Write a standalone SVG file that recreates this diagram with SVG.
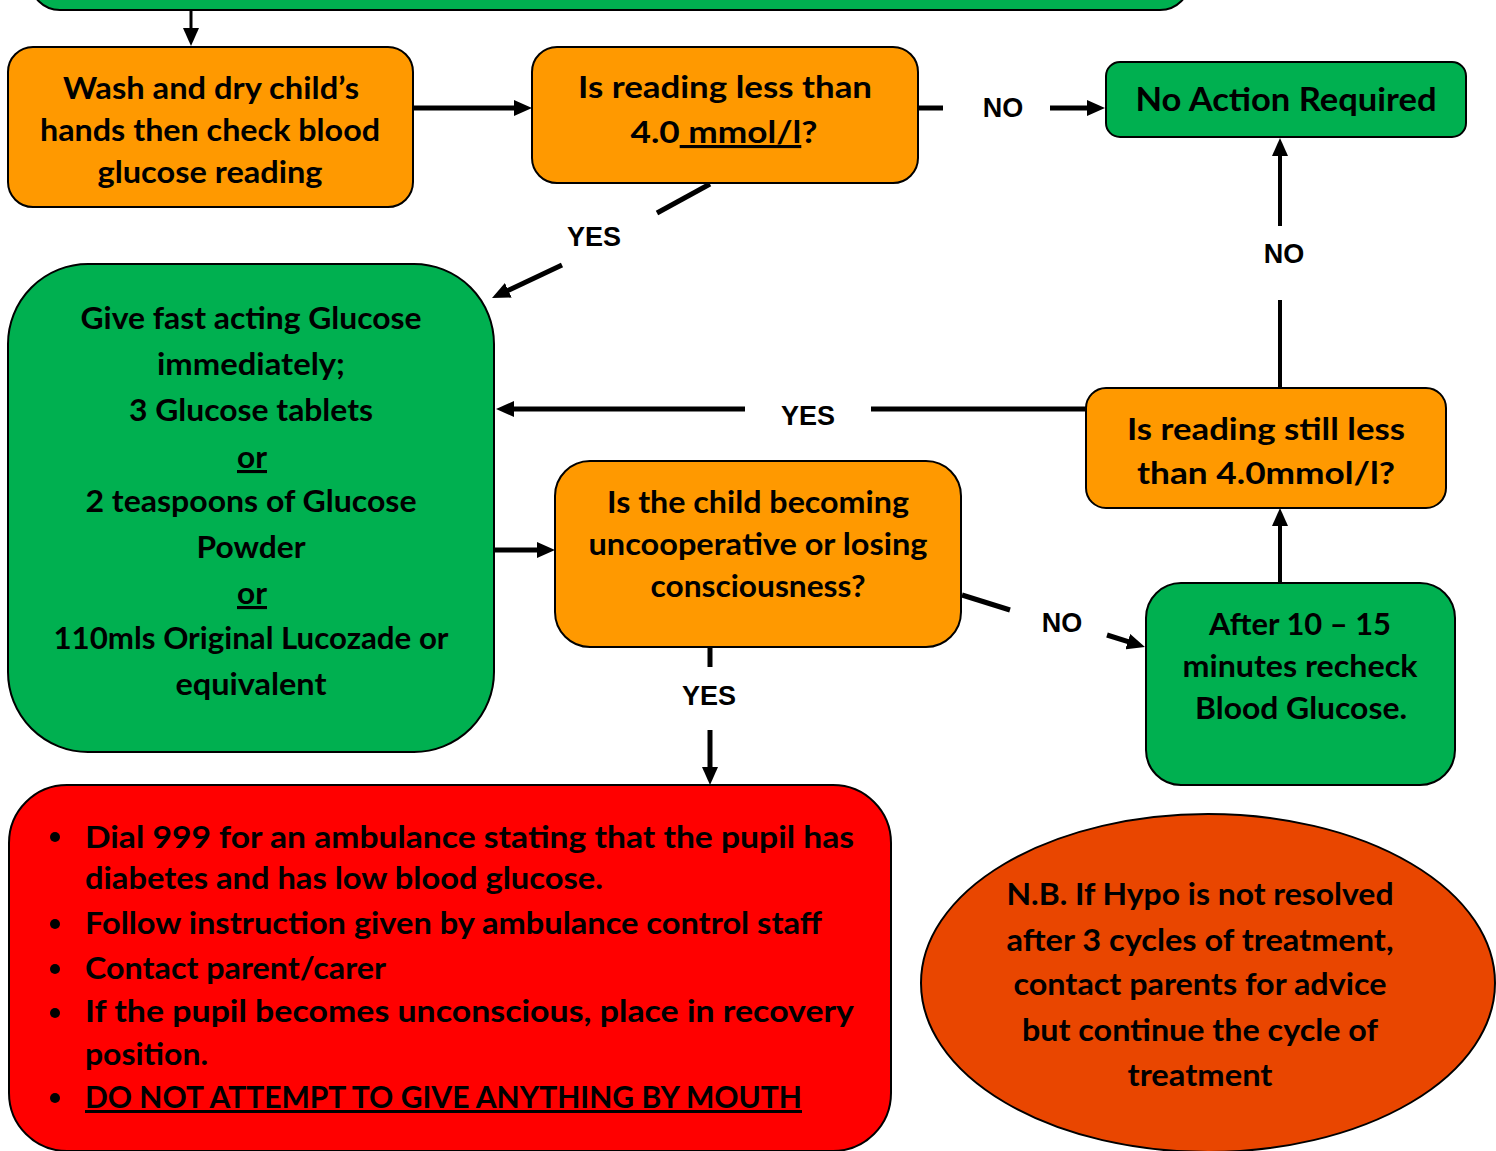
<svg xmlns="http://www.w3.org/2000/svg" width="1496" height="1151" viewBox="0 0 1496 1151">
<defs>
<style>
.box{stroke:#000;stroke-width:2}
.green{fill:#00B050}
.orange{fill:#FF9900}
.red{fill:#FF0000}
.oval{fill:#E94600}
.t{font-family:Lato,"Open Sans","Liberation Sans",sans-serif;font-weight:bold;font-size:31px;fill:#000;text-anchor:middle}
.tl{font-family:Lato,"Open Sans","Liberation Sans",sans-serif;font-weight:bold;font-size:30px;fill:#000}
.lbl{font-family:"Liberation Sans",Arial,sans-serif;font-weight:bold;font-size:27px;fill:#000;text-anchor:middle}
.c{stroke:#000;stroke-width:5;fill:none}
.u{text-decoration:underline}
</style>
<marker id="ah" markerUnits="userSpaceOnUse" markerWidth="18" markerHeight="16" refX="2" refY="8" orient="auto">
<path d="M0,0 L18,8 L0,16 z" fill="#000"/>
</marker>
</defs>
<rect width="1496" height="1151" fill="#fff"/>

<g id="top-node">
<rect class="box green" x="30" y="-70" width="1160" height="80" rx="30"/>
</g>

<g id="connectors">
<line class="c" style="stroke-width:3" x1="191" y1="10" x2="191" y2="30" marker-end="url(#ah)"/>
<line class="c" x1="413" y1="108" x2="516" y2="108" marker-end="url(#ah)"/>
<line class="c" x1="918" y1="108" x2="943" y2="108"/>
<line class="c" x1="1050" y1="108" x2="1089" y2="108" marker-end="url(#ah)"/>
<line class="c" style="stroke-width:4" x1="1280" y1="226" x2="1280" y2="154" marker-end="url(#ah)"/>
<line class="c" style="stroke-width:4" x1="1280" y1="300" x2="1280" y2="388"/>
<line class="c" x1="1086" y1="409" x2="871" y2="409"/>
<line class="c" x1="745" y1="409" x2="512" y2="409" marker-end="url(#ah)"/>
<line class="c" x1="710" y1="184" x2="657" y2="213"/>
<line class="c" x1="562" y1="265" x2="506.5" y2="291.2" marker-end="url(#ah)"/>
<line class="c" x1="492" y1="550" x2="539" y2="550" marker-end="url(#ah)"/>
<line class="c" x1="962" y1="595" x2="1010" y2="610"/>
<line class="c" x1="1107" y1="635" x2="1129.7" y2="642.2" marker-end="url(#ah)"/>
<line class="c" style="stroke-width:4" x1="1280" y1="582" x2="1280" y2="524" marker-end="url(#ah)"/>
<line class="c" x1="710" y1="647" x2="710" y2="667"/>
<line class="c" x1="710" y1="730" x2="710" y2="769" marker-end="url(#ah)"/>
<text class="lbl" x="1003" y="117">NO</text>
<text class="lbl" x="1284" y="263">NO</text>
<text class="lbl" x="594" y="246">YES</text>
<text class="lbl" x="808" y="425">YES</text>
<text class="lbl" x="709" y="705">YES</text>
<text class="lbl" x="1062" y="632">NO</text>
</g>

<g id="wash">
<rect class="box orange" x="8" y="47" width="405" height="160" rx="25"/>
<text class="t" x="211" y="99" textLength="296" lengthAdjust="spacingAndGlyphs">Wash and dry child’s</text>
<text class="t" x="210" y="141" textLength="340" lengthAdjust="spacingAndGlyphs">hands then check blood</text>
<text class="t" x="210" y="183" textLength="225" lengthAdjust="spacingAndGlyphs">glucose reading</text>
</g>

<g id="check1">
<rect class="box orange" x="532" y="47" width="386" height="136" rx="25"/>
<text class="t" x="725" y="98" textLength="294" lengthAdjust="spacingAndGlyphs">Is reading less than</text>
<text class="t" x="724" y="143" textLength="187" lengthAdjust="spacingAndGlyphs">4.0<tspan class="u"> mmol/l</tspan>?</text>
</g>

<g id="no-action">
<rect class="box green" x="1106" y="62" width="360" height="75" rx="14"/>
<text class="t" style="font-size:33px" x="1286" y="111" textLength="301" lengthAdjust="spacingAndGlyphs">No Action Required</text>
</g>

<g id="check2">
<rect class="box orange" x="1086" y="388" width="360" height="120" rx="20"/>
<text class="t" x="1266" y="440" textLength="278" lengthAdjust="spacingAndGlyphs">Is reading still less</text>
<text class="t" x="1266" y="484" textLength="258" lengthAdjust="spacingAndGlyphs">than 4.0mmol/l?</text>
</g>

<g id="treat">
<rect class="box green" x="8" y="264" width="486" height="488" rx="80"/>
<text class="t" x="251" y="329" textLength="341" lengthAdjust="spacingAndGlyphs">Give fast acting Glucose</text>
<text class="t" x="251" y="375" textLength="188" lengthAdjust="spacingAndGlyphs">immediately;</text>
<text class="t" x="251" y="421" textLength="244" lengthAdjust="spacingAndGlyphs">3 Glucose tablets</text>
<text class="t u" x="252" y="468" textLength="30" lengthAdjust="spacingAndGlyphs">or</text>
<text class="t" x="251" y="512" textLength="331" lengthAdjust="spacingAndGlyphs">2 teaspoons of Glucose</text>
<text class="t" x="251" y="558" textLength="109" lengthAdjust="spacingAndGlyphs">Powder</text>
<text class="t u" x="252" y="604" textLength="30" lengthAdjust="spacingAndGlyphs">or</text>
<text class="t" x="251" y="649" textLength="395" lengthAdjust="spacingAndGlyphs">110mls Original Lucozade or</text>
<text class="t" x="251" y="695" textLength="151" lengthAdjust="spacingAndGlyphs">equivalent</text>
</g>

<g id="conscious">
<rect class="box orange" x="555" y="461" width="406" height="186" rx="35"/>
<text class="t" x="758" y="513" textLength="302" lengthAdjust="spacingAndGlyphs">Is the child becoming</text>
<text class="t" x="758" y="555" textLength="339" lengthAdjust="spacingAndGlyphs">uncooperative or losing</text>
<text class="t" x="758" y="597" textLength="215" lengthAdjust="spacingAndGlyphs">consciousness?</text>
</g>

<g id="recheck">
<rect class="box green" x="1146" y="583" width="309" height="202" rx="35"/>
<text class="t" x="1300" y="635" textLength="182" lengthAdjust="spacingAndGlyphs">After 10 – 15</text>
<text class="t" x="1300" y="677" textLength="235" lengthAdjust="spacingAndGlyphs">minutes recheck</text>
<text class="t" x="1301" y="719" textLength="212" lengthAdjust="spacingAndGlyphs">Blood Glucose.</text>
</g>

<g id="emergency">
<rect class="box red" x="9" y="785" width="882" height="366" rx="58"/>
<circle cx="55" cy="837" r="5"/>
<circle cx="55" cy="924" r="5"/>
<circle cx="55" cy="969" r="5"/>
<circle cx="55" cy="1013" r="5"/>
<circle cx="55" cy="1098" r="5"/>
<text class="tl" x="85" y="848" textLength="769" lengthAdjust="spacingAndGlyphs">Dial 999 for an ambulance stating that the pupil has</text>
<text class="tl" x="85" y="889" textLength="518" lengthAdjust="spacingAndGlyphs">diabetes and has low blood glucose.</text>
<text class="tl" x="85" y="934" textLength="737" lengthAdjust="spacingAndGlyphs">Follow instruction given by ambulance control staff</text>
<text class="tl" x="85" y="979" textLength="301" lengthAdjust="spacingAndGlyphs">Contact parent/carer</text>
<text class="tl" x="85" y="1022" textLength="769" lengthAdjust="spacingAndGlyphs">If the pupil becomes unconscious, place in recovery</text>
<text class="tl" x="85" y="1065" textLength="123" lengthAdjust="spacingAndGlyphs">position.</text>
<text class="tl u" x="85" y="1108" textLength="717" lengthAdjust="spacingAndGlyphs">DO NOT ATTEMPT TO GIVE ANYTHING BY MOUTH</text>
</g>

<g id="note">
<ellipse class="box oval" cx="1208" cy="983" rx="287" ry="169"/>
<text class="t" x="1200" y="905" textLength="387" lengthAdjust="spacingAndGlyphs">N.B. If Hypo is not resolved</text>
<text class="t" x="1200" y="951" textLength="387" lengthAdjust="spacingAndGlyphs">after 3 cycles of treatment,</text>
<text class="t" x="1200" y="995" textLength="373" lengthAdjust="spacingAndGlyphs">contact parents for advice</text>
<text class="t" x="1200" y="1041" textLength="356" lengthAdjust="spacingAndGlyphs">but continue the cycle of</text>
<text class="t" x="1200" y="1086" textLength="145" lengthAdjust="spacingAndGlyphs">treatment</text>
</g>
</svg>
